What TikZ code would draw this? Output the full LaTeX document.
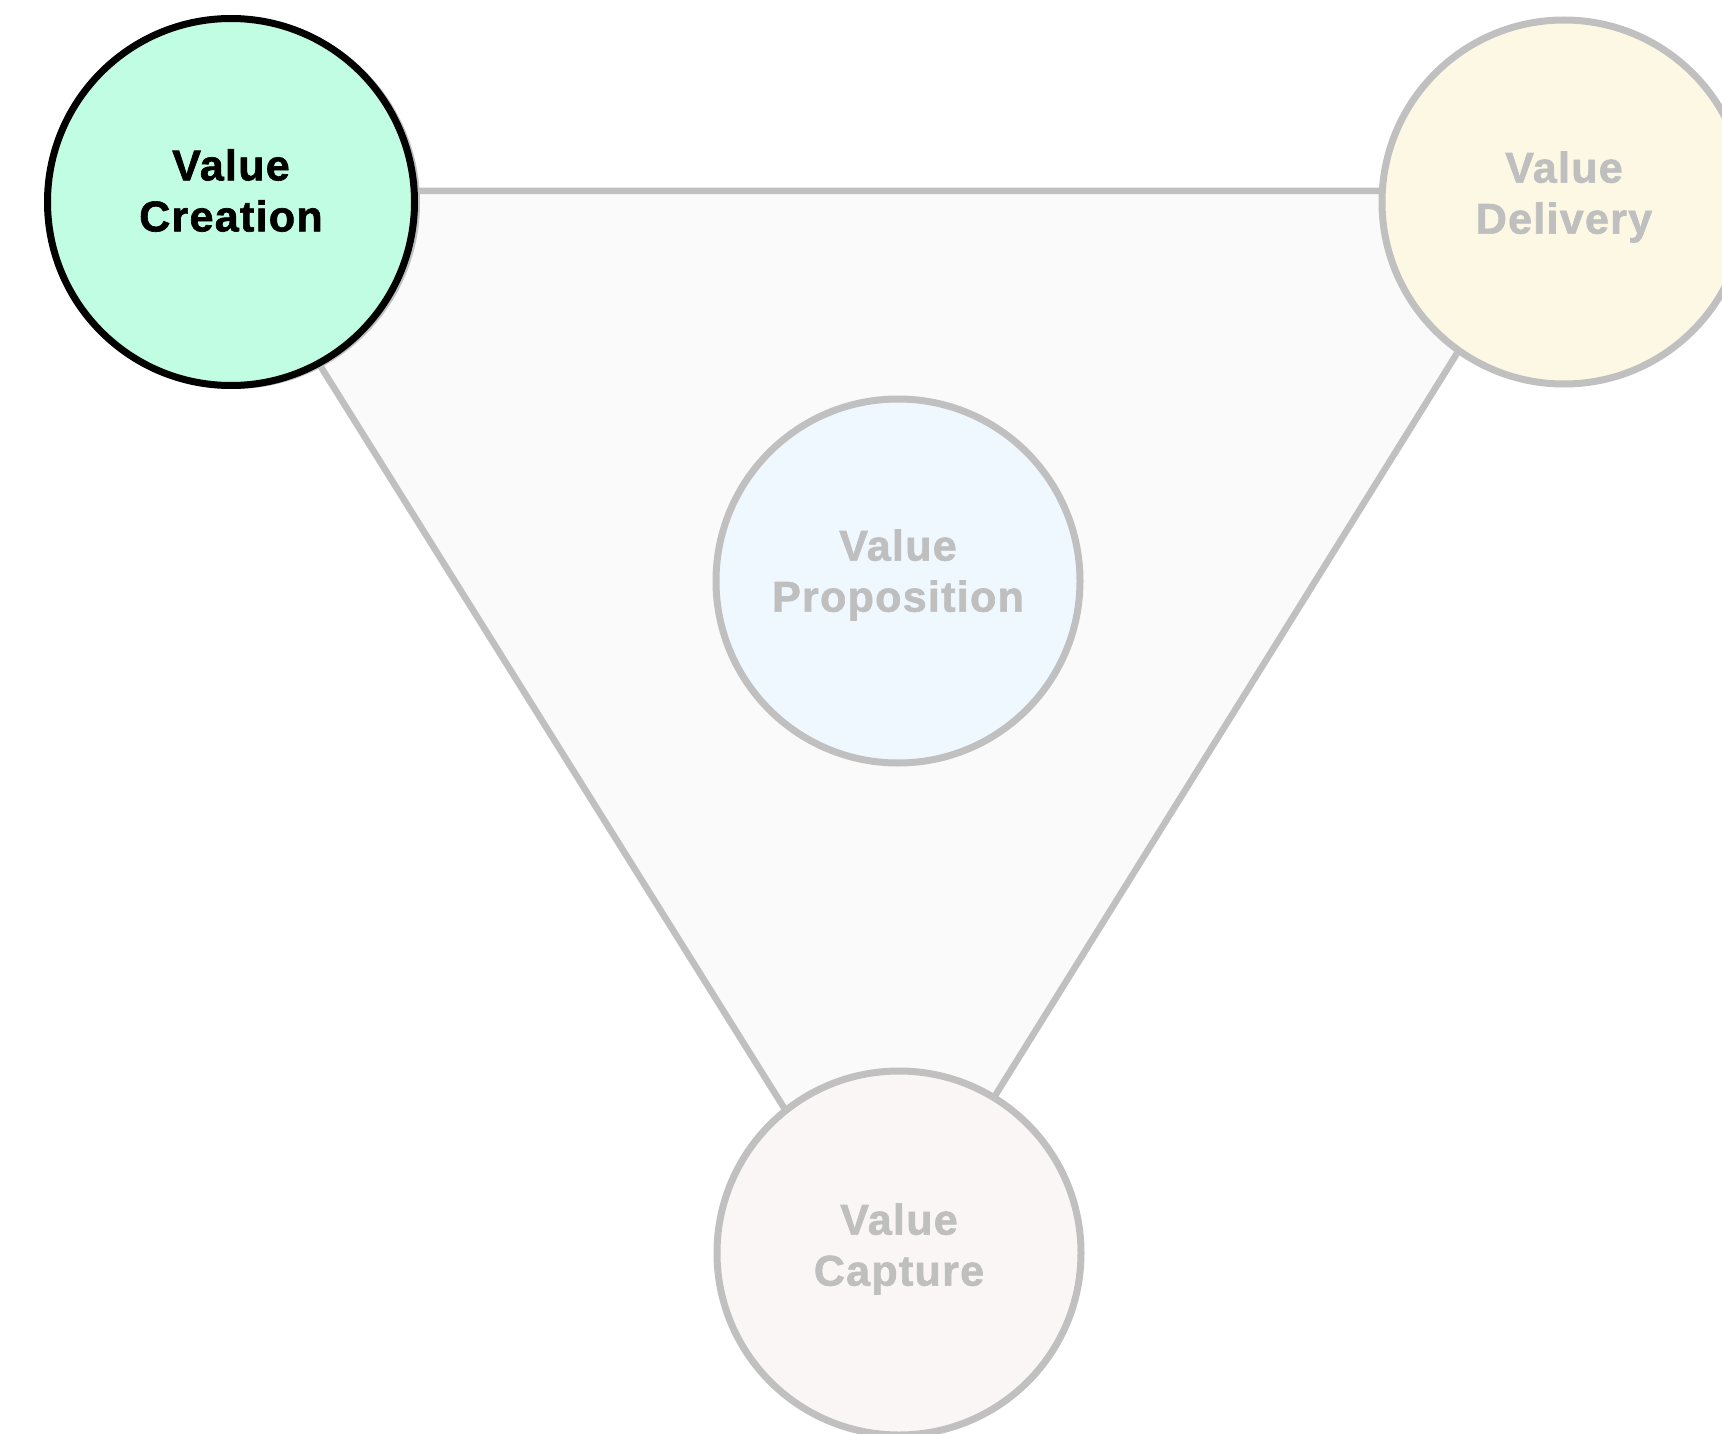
\documentclass[tikz,border=0pt]{standalone}
\usepackage{fontspec}
\setmainfont{Liberation Sans}[LetterSpace=3, FakeBold=1.5]
\definecolor{edgegray}{HTML}{C0C0C0}
\definecolor{textgray}{HTML}{BFBFBF}
\definecolor{trifill}{HTML}{FAFAFA}
\definecolor{mint}{HTML}{C0FDE2}
\definecolor{cream}{HTML}{FDF8E4}
\definecolor{paleblue}{HTML}{F0F8FF}
\definecolor{palepink}{HTML}{FBF6F6}
\tikzset{
  valuecircle/.style={circle, draw=edgegray, line width=7pt, minimum size=364pt, inner sep=0pt},
  activecircle/.style={valuecircle, draw=black, minimum size=367pt},
  lbl/.style={align=center, text=textgray, inner sep=0pt, font=\bfseries\fontsize{43}{51}\selectfont},
  activelbl/.style={lbl, text=black},
  triedge/.style={draw=edgegray, fill=trifill, line width=6.5pt, line join=miter}
}
\begin{document}
\begin{tikzpicture}[x=1pt, y=-1pt]
\useasboundingbox (0,0) rectangle (1722,1434);
\clip (0,0) rectangle (1722,1434);
\fill[white] (0,0) rectangle (1722,1434);
\coordinate (tl) at (211,191);
\coordinate (tr) at (1558,191);
\coordinate (bm) at (886,1271);
\path[triedge] (tl) -- (tr) -- (bm) -- cycle;
\node[valuecircle, fill=paleblue,
  label={[lbl, yshift=6pt]center:Value\\Proposition}] (prop) at (898,581) {};
\node[valuecircle, fill=palepink,
  label={[lbl, yshift=4pt]center:Value\\Capture}] (capt) at (899,1253) {};
\node[valuecircle, fill=cream,
  label={[lbl, yshift=5pt]center:Value\\Delivery}] (deliv) at (1564,202) {};
\node[valuecircle, minimum size=365pt] (creashadow) at (234,203) {};
\node[activecircle, fill=mint,
  label={[activelbl, yshift=11.5pt]center:Value\\Creation}] (crea) at (231,202) {};
\end{tikzpicture}
\end{document}
